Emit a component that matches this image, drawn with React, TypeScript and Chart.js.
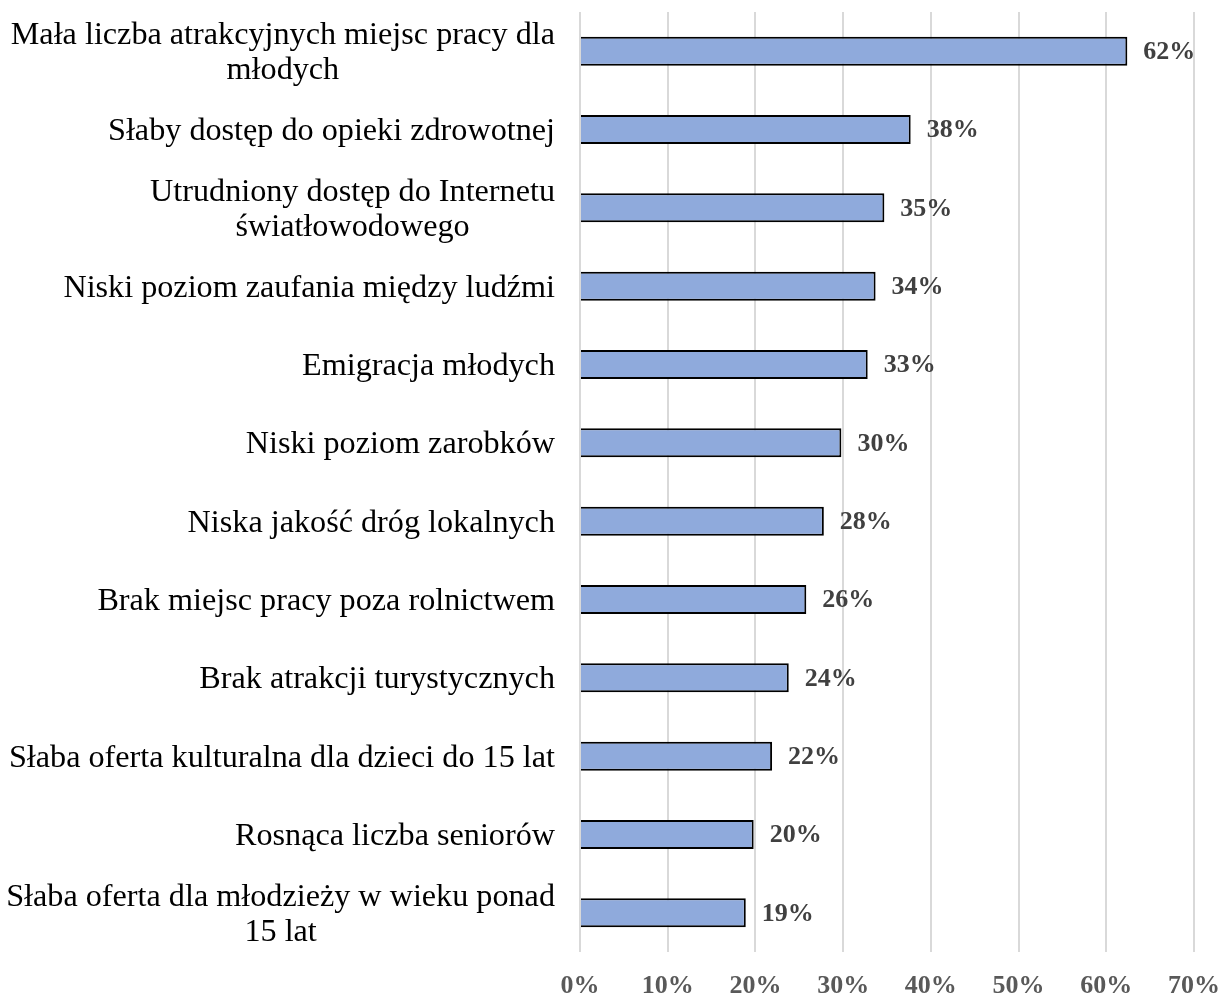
import React, { useEffect, useRef } from "react";
import { Chart, registerables } from "chart.js";

Chart.register(...registerables);

const categories: (string | string[])[] = [
  ["Mała liczba atrakcyjnych miejsc pracy dla", "młodych"],
  "Słaby dostęp do opieki zdrowotnej",
  ["Utrudniony dostęp do Internetu", "światłowodowego"],
  "Niski poziom zaufania między ludźmi",
  "Emigracja młodych",
  "Niski poziom zarobków",
  "Niska jakość dróg lokalnych",
  "Brak miejsc pracy poza rolnictwem",
  "Brak atrakcji turystycznych",
  "Słaba oferta kulturalna dla dzieci do 15 lat",
  "Rosnąca liczba seniorów",
  ["Słaba oferta dla młodzieży w wieku ponad", "15 lat"],
];

const values: number[] = [62.4, 37.7, 34.7, 33.7, 32.8, 29.8, 27.8, 25.8, 23.8, 21.9, 19.8, 18.9];
const valueLabels: string[] = ["62%", "38%", "35%", "34%", "33%", "30%", "28%", "26%", "24%", "22%", "20%", "19%"];
const tickLabels: string[] = ["0%", "10%", "20%", "30%", "40%", "50%", "60%", "70%"];

const FONT = "'Liberation Serif', 'Times New Roman', serif";

const categoryLabelPlugin = {
  id: "categoryLabels",
  afterDraw(chart: any) {
    const ctx = chart.ctx;
    const yScale = chart.scales.y;
    const left = chart.chartArea.left;
    const labels = chart.data.labels as (string | string[])[];
    ctx.save();
    ctx.font = `32.2px ${FONT}`;
    ctx.fillStyle = "#000000";
    ctx.textBaseline = "middle";
    ctx.textAlign = "center";
    const lineH = 35;
    labels.forEach((lab, i) => {
      const lines = Array.isArray(lab) ? lab : [lab];
      const y = yScale.getPixelForValue(i);
      let maxW = 0;
      lines.forEach((l) => {
        maxW = Math.max(maxW, ctx.measureText(l).width);
      });
      const right = left - 25;
      const cx = right - maxW / 2;
      lines.forEach((l, j) => {
        const ly = y + 2 + (j - (lines.length - 1) / 2) * lineH;
        ctx.fillText(l, cx, ly);
      });
    });
    ctx.restore();
  },
};

const valueLabelPlugin = {
  id: "valueLabels",
  afterDatasetsDraw(chart: any) {
    const ctx = chart.ctx;
    const meta = chart.getDatasetMeta(0);
    ctx.save();
    ctx.font = `bold 26px ${FONT}`;
    ctx.fillStyle = "#404040";
    ctx.textBaseline = "middle";
    ctx.textAlign = "left";
    meta.data.forEach((el: any, i: number) => {
      ctx.fillText(valueLabels[i], el.x + 16, el.y + 1);
    });
    ctx.restore();
  },
};

export default function App() {
  const canvasRef = useRef<HTMLCanvasElement | null>(null);

  useEffect(() => {
    if (!canvasRef.current) return;
    const chart = new Chart(canvasRef.current, {
      type: "bar",
      data: {
        labels: categories as any,
        datasets: [
          {
            data: values,
            backgroundColor: "#8FAADC",
            borderColor: "#000000",
            borderWidth: 2,
            barPercentage: 0.37,
            categoryPercentage: 1,
          },
        ],
      },
      options: {
        indexAxis: "y",
        animation: false,
        responsive: true,
        maintainAspectRatio: false,
        layout: { padding: { top: 12, right: 26, left: 0, bottom: 0 } },
        plugins: {
          legend: { display: false },
          tooltip: { enabled: false },
        },
        scales: {
          x: {
            min: 0,
            max: 70,
            ticks: {
              stepSize: 10,
              padding: 19,
              color: "#595959",
              font: { family: FONT, size: 26, weight: "bold" },
              callback: (_v: any, idx: number) => tickLabels[idx],
            },
            grid: { color: "#d9d9d9", lineWidth: 2, drawTicks: false },
            border: { display: false },
            afterFit: (scale: any) => {
              scale.height = 42;
              scale.paddingLeft = 0;
              scale.paddingRight = 0;
            },
          },
          y: {
            ticks: { display: false },
            grid: { display: false },
            border: { display: false },
            afterFit: (scale: any) => {
              scale.width = 580;
              scale.paddingTop = 0;
              scale.paddingBottom = 0;
            },
          },
        },
      },
      plugins: [categoryLabelPlugin, valueLabelPlugin],
    });
    return () => chart.destroy();
  }, []);

  return (
    <div style={{ position: "fixed", left: 0, top: 0, width: 1220, height: 994, background: "#ffffff" }}>
      <canvas ref={canvasRef} />
    </div>
  );
}
